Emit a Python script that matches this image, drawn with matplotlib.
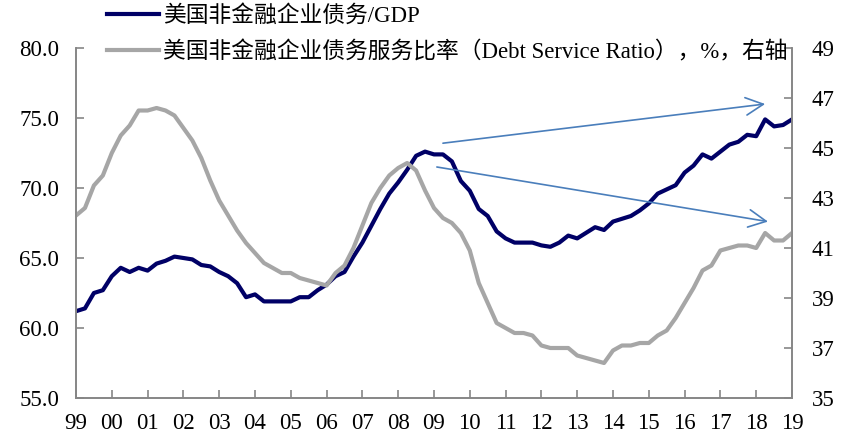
import matplotlib
matplotlib.use('Agg')
import matplotlib.pyplot as plt
import numpy as np

plt.rcParams['font.family'] = ['Liberation Serif', 'Noto Sans CJK SC']

# quarterly, 1999Q1 .. 2019Q1
debt_gdp = [61.2, 61.4, 62.5, 62.7, 63.7, 64.3, 64.0, 64.3, 64.1, 64.6,
            64.8, 65.1, 65.0, 64.9, 64.5, 64.4, 64.0, 63.7, 63.2, 62.2,
            62.4, 61.9, 61.9, 61.9, 61.9, 62.2, 62.2, 62.7, 63.1, 63.7,
            64.0, 65.1, 66.1, 67.3, 68.5, 69.6, 70.4, 71.3, 72.3, 72.6,
            72.4, 72.4, 71.9, 70.5, 69.8, 68.5, 68.0, 66.9, 66.4, 66.1,
            66.1, 66.1, 65.9, 65.8, 66.1, 66.6, 66.4, 66.8, 67.2, 67.0,
            67.6, 67.8, 68.0, 68.4, 68.9, 69.6, 69.9, 70.2, 71.1, 71.6,
            72.4, 72.1, 72.6, 73.1, 73.3, 73.8, 73.7, 74.9, 74.4, 74.5,
            74.9]
dsr = [42.3, 42.6, 43.5, 43.9, 44.8, 45.5, 45.9, 46.5, 46.5, 46.6,
       46.5, 46.3, 45.8, 45.3, 44.6, 43.7, 42.9, 42.3, 41.7, 41.2,
       40.8, 40.4, 40.2, 40.0, 40.0, 39.8, 39.7, 39.6, 39.5, 40.0,
       40.3, 41.0, 41.9, 42.8, 43.4, 43.9, 44.2, 44.4, 44.1, 43.3,
       42.6, 42.2, 42.0, 41.6, 40.9, 39.6, 38.8, 38.0, 37.8, 37.6,
       37.6, 37.5, 37.1, 37.0, 37.0, 37.0, 36.7, 36.6, 36.5, 36.4,
       36.9, 37.1, 37.1, 37.2, 37.2, 37.5, 37.7, 38.2, 38.8, 39.4,
       40.1, 40.3, 40.9, 41.0, 41.1, 41.1, 41.0, 41.6, 41.3, 41.3,
       41.6]
t = 1999 + np.arange(len(debt_gdp)) / 4.0

years = list(range(1999, 2020))
year_labels = ['%02d' % (y % 100) for y in years]
left_ticks = [55, 60, 65, 70, 75, 80]
right_ticks = [35, 37, 39, 41, 43, 45, 47, 49]

label1 = '美国非金融企业债务/GDP'
label2 = '美国非金融企业债务服务比率（Debt Service Ratio），%，右轴'

# trend arrows (start, end) in years / left-axis units
arrow_up = ((2009.25, 73.2), (2018.25, 76.0))
arrow_down = ((2009.08, 71.5), (2018.33, 67.6))

navy = '#000066'
grey = '#A6A6A6'
spine_c = '#868686'
arrow_c = '#4A7EBB'

fig = plt.figure(figsize=(8.41, 4.34), dpi=100)
ax = fig.add_axes([76 / 841, 1 - 398 / 434, (792 - 76) / 841, (398 - 48) / 434])
ax2 = ax.twinx()

l1, = ax.plot(t, debt_gdp, color=navy, lw=3.0, solid_joinstyle='round')
l2, = ax2.plot(t, dsr, color=grey, lw=3.0, solid_joinstyle='round')

ax.set_xlim(1999, 2019)
ax.set_ylim(55, 80)
ax2.set_ylim(35, 49)
ax.set_xticks(years)
ax.set_xticklabels(year_labels)
ax.set_yticks(left_ticks)
ax.set_yticklabels(['%.1f' % v for v in left_ticks])
ax2.set_yticks(right_ticks)

for a in (ax, ax2):
    a.spines['top'].set_visible(False)
    for s in ('left', 'right', 'bottom'):
        a.spines[s].set_color(spine_c)
        a.spines[s].set_linewidth(1.2)
ax.tick_params(axis='both', direction='in', length=6, width=1.2,
               color=spine_c, labelsize=16.5, pad=12)
ax.tick_params(axis='x', pad=11)
ax2.tick_params(axis='y', direction='in', length=6, width=1.2,
                color=spine_c, labelsize=16.5, pad=14)

for (x0, y0), (x1, y1) in (arrow_up, arrow_down):
    ax.annotate('', xy=(x1, y1), xytext=(x0, y0),
                arrowprops=dict(arrowstyle='->,head_length=0.9,head_width=0.45',
                                color=arrow_c, lw=1.2, mutation_scale=14,
                                shrinkA=0, shrinkB=0))

fig.legend([l1, l2], [label1, label2], loc='upper left',
           bbox_to_anchor=(107 / 841, 1 - 5 / 434), frameon=False,
           fontsize=16.4, handlelength=2.3, handletextpad=0.15,
           labelspacing=0.62, borderpad=0, borderaxespad=0)

fig.savefig('out.png', dpi=100)
